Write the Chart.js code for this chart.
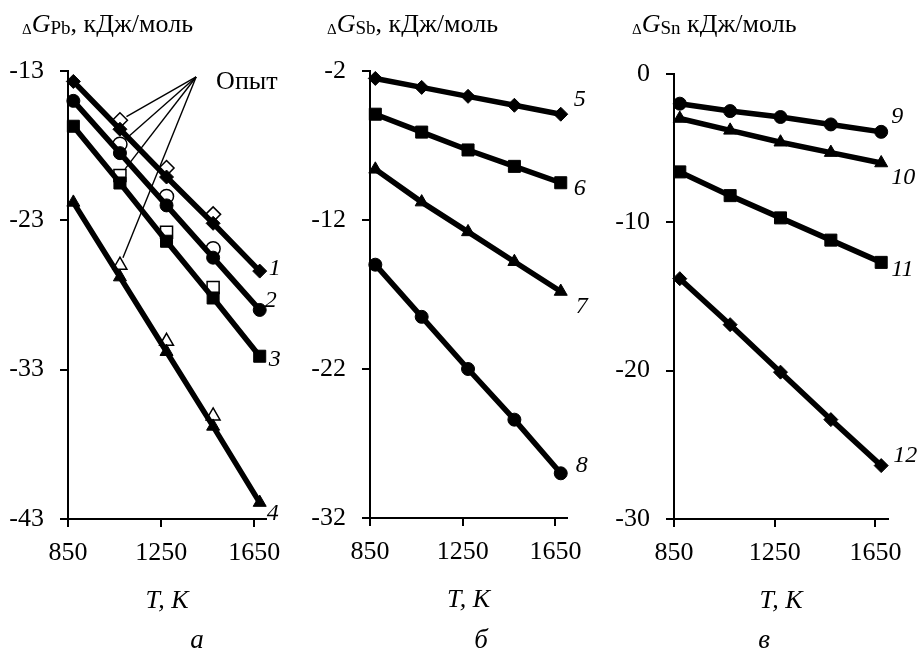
<!DOCTYPE html>
<html lang="ru">
<head>
<meta charset="UTF-8">
<title>Энергия Гиббса</title>
<script src="https://cdn.jsdelivr.net/npm/chart.js"></script>
<style>
  body { margin: 0; background: #fff; width: 924px; height: 650px; position: relative; overflow: hidden;
         font-family: 'Liberation Serif', 'Times New Roman', serif; color: #000; }
  canvas { position: absolute; top: 0; }
  .hdr { position: absolute; top: 11px; font-size: 26px; line-height: 26px; white-space: nowrap; }
  .hdr .d { font-size: 15px; vertical-align: -2px; }
  .hdr .s { font-size: 19px; vertical-align: -2px; }
  .let { position: absolute; top: 626px; width: 40px; text-align: center; font-size: 27px; line-height: 27px; font-style: italic; }
</style>
</head>
<body>

<canvas id="chA" width="300" height="650" style="left:0"></canvas>
<canvas id="chB" width="305" height="650" style="left:300px"></canvas>
<canvas id="chC" width="319" height="650" style="left:605px"></canvas>

<div class="hdr" style="left:22px"><span class="d">Δ</span><i>G</i><span class="s">Pb</span>, кДж/моль</div>
<div class="hdr" style="left:327px"><span class="d">Δ</span><i>G</i><span class="s">Sb</span>, кДж/моль</div>
<div class="hdr" style="left:632px"><span class="d">Δ</span><i>G</i><span class="s">Sn</span> кДж/моль</div>

<div class="let" style="left:177px">а</div>
<div class="let" style="left:461px">б</div>
<div class="let" style="left:744px">в</div>

<script>
  // temperatures, K
  const temps = [873, 1073, 1273, 1473, 1673];
  const expTemps = [1073, 1273, 1473];
  const xTicks = [850, 1250, 1650];
  const xMin = 850, xMax = 1700;

  // а) lead
  const pbTicks = [-43, -33, -23, -13];
  const pb1 = [-13.7, -16.9, -20.1, -23.2, -26.4];
  const pb2 = [-15.0, -18.5, -22.0, -25.5, -29.0];
  const pb3 = [-16.7, -20.5, -24.4, -28.2, -32.1];
  const pb4 = [-21.8, -26.8, -31.8, -36.8, -41.9];
  const pb1Exp = [-16.3, -19.5, -22.6];
  const pb2Exp = [-17.9, -21.4, -24.9];
  const pb3Exp = [-20.0, -23.8, -27.5];
  const pb4Exp = [-26.0, -31.1, -36.1];
  const opytAnchor = [1400, -13.4];

  // б) antimony
  const sbTicks = [-32, -22, -12, -2];
  const sb5 = [-2.5, -3.1, -3.7, -4.3, -4.9];
  const sb6 = [-4.9, -6.1, -7.3, -8.4, -9.5];
  const sb7 = [-8.6, -10.8, -12.8, -14.8, -16.8];
  const sb8 = [-15.0, -18.5, -22.0, -25.4, -29.0];

  // в) tin
  const snTicks = [-30, -20, -10, 0];
  const sn9 = [-2.0, -2.5, -2.9, -3.4, -3.9];
  const sn10 = [-3.0, -3.8, -4.6, -5.3, -6.0];
  const sn11 = [-6.6, -8.2, -9.7, -11.2, -12.7];
  const sn12 = [-13.8, -16.9, -20.1, -23.3, -26.4];

  const FONT = "'Liberation Serif', 'Times New Roman', serif";

  const xy = (xs, ys) => xs.map((x, i) => ({ x: x, y: ys[i] }));

  function calc(ys, style, r, num) {
    return {
      data: xy(temps, ys), num: num,
      borderColor: '#000', backgroundColor: '#000', borderWidth: 5.5,
      pointStyle: style, pointRadius: r, pointHoverRadius: r,
      pointBackgroundColor: '#000', pointBorderColor: '#000', pointBorderWidth: 1,
      tension: 0, clip: false
    };
  }

  function exp(ys, style, r) {
    return {
      data: xy(expTemps, ys), showLine: false,
      pointStyle: style, pointRadius: r, pointHoverRadius: r,
      pointBackgroundColor: '#fff', pointBorderColor: '#000', pointBorderWidth: 1.5,
      clip: false
    };
  }

  // curve numbers next to the last point
  const numbersPlugin = {
    id: 'numbers',
    afterDatasetsDraw(chart) {
      const ctx = chart.ctx;
      ctx.save();
      ctx.font = 'italic 24px ' + FONT;
      ctx.fillStyle = '#000';
      ctx.textAlign = 'left';
      ctx.textBaseline = 'middle';
      chart.data.datasets.forEach((ds, i) => {
        if (!ds.num) return;
        const pts = chart.getDatasetMeta(i).data;
        const p = pts[pts.length - 1];
        ctx.fillText(ds.num[0], p.x + ds.num[1], p.y + ds.num[2]);
      });
      ctx.restore();
    }
  };

  // "Опыт" pointer lines to experimental points
  const opytPlugin = {
    id: 'opyt',
    afterDatasetsDraw(chart) {
      const ctx = chart.ctx;
      const ax = chart.scales.x.getPixelForValue(opytAnchor[0]);
      const ay = chart.scales.y.getPixelForValue(opytAnchor[1]);
      ctx.save();
      ctx.strokeStyle = '#000';
      ctx.lineWidth = 1.4;
      chart.data.datasets.forEach((ds, i) => {
        if (ds.showLine !== false) return;
        const p = chart.getDatasetMeta(i).data[0];
        const dx = p.x - ax, dy = p.y - ay;
        const len = Math.hypot(dx, dy);
        const k = (len - ds.pointRadius) / len;
        ctx.beginPath();
        ctx.moveTo(ax, ay);
        ctx.lineTo(ax + dx * k, ay + dy * k);
        ctx.stroke();
      });
      ctx.font = '26px ' + FONT;
      ctx.fillStyle = '#000';
      ctx.textBaseline = 'middle';
      ctx.fillText('Опыт', ax + 20, ay + 5);
      ctx.restore();
    }
  };

  function panel(id, datasets, yTicks, box, extra) {
    const tickFont = { family: FONT, size: 26 };
    new Chart(document.getElementById(id), {
      type: 'line',
      data: { datasets: datasets },
      options: {
        responsive: false,
        animation: false,
        events: [],
        layout: { padding: { left: 0, top: box.top, right: box.right, bottom: 650 - box.bottom - 100 } },
        plugins: { legend: { display: false }, tooltip: { enabled: false } },
        scales: {
          x: {
            type: 'linear', min: xMin, max: xMax,
            afterBuildTicks: s => { s.ticks = xTicks.map(v => ({ value: v })); },
            afterFit: s => { s.height = 100; },
            grid: { drawOnChartArea: false, drawTicks: true, tickLength: 8, color: '#000', lineWidth: 2 },
            border: { display: true, color: '#000', width: 2 },
            ticks: { color: '#000', font: tickFont, padding: 11, maxRotation: 0, autoSkip: false,
                     callback: v => String(v) },
            title: { display: true, text: 'T, К', color: '#000',
                     font: { family: FONT, size: 26, style: 'italic' }, padding: { top: 0, bottom: 2 } }
          },
          y: {
            type: 'linear', min: yTicks[0], max: yTicks[yTicks.length - 1],
            afterBuildTicks: s => { s.ticks = yTicks.map(v => ({ value: v })); },
            afterFit: s => { s.width = box.left; },
            grid: { drawOnChartArea: false, drawTicks: true, tickLength: 8, color: '#000', lineWidth: 2 },
            border: { display: true, color: '#000', width: 2 },
            ticks: { color: '#000', font: tickFont, padding: 16, autoSkip: false,
                     callback: v => String(v) }
          }
        }
      },
      plugins: [numbersPlugin].concat(extra || [])
    });
  }

  panel('chA', [
    calc(pb1, 'rectRot', 7, ['1', 9, -2]),
    calc(pb2, 'circle', 6.5, ['2', 5, -9]),
    calc(pb3, 'rect', 8.5, ['3', 9, 3]),
    calc(pb4, 'triangle', 7.5, ['4', 7, 11]),
    exp(pb1Exp, 'rectRot', 7.5),
    exp(pb2Exp, 'circle', 7),
    exp(pb3Exp, 'rect', 8.5),
    exp(pb4Exp, 'triangle', 8)
  ], pbTicks, { left: 68, right: 34, top: 71, bottom: 519 }, [opytPlugin]);

  panel('chB', [
    calc(sb5, 'rectRot', 7, ['5', 13, -15]),
    calc(sb6, 'rect', 8.5, ['6', 13, 6]),
    calc(sb7, 'triangle', 7.5, ['7', 15, 15]),
    calc(sb8, 'circle', 6.5, ['8', 15, -8])
  ], sbTicks, { left: 70, right: 38, top: 71, bottom: 518 });

  panel('chC', [
    calc(sn9, 'circle', 6.5, ['9', 10, -15]),
    calc(sn10, 'triangle', 7.5, ['10', 10, 15]),
    calc(sn11, 'rect', 8.5, ['11', 10, 7]),
    calc(sn12, 'rectRot', 7, ['12', 12, -10])
  ], snTicks, { left: 69, right: 36, top: 74, bottom: 519 });
</script>
</body>
</html>
